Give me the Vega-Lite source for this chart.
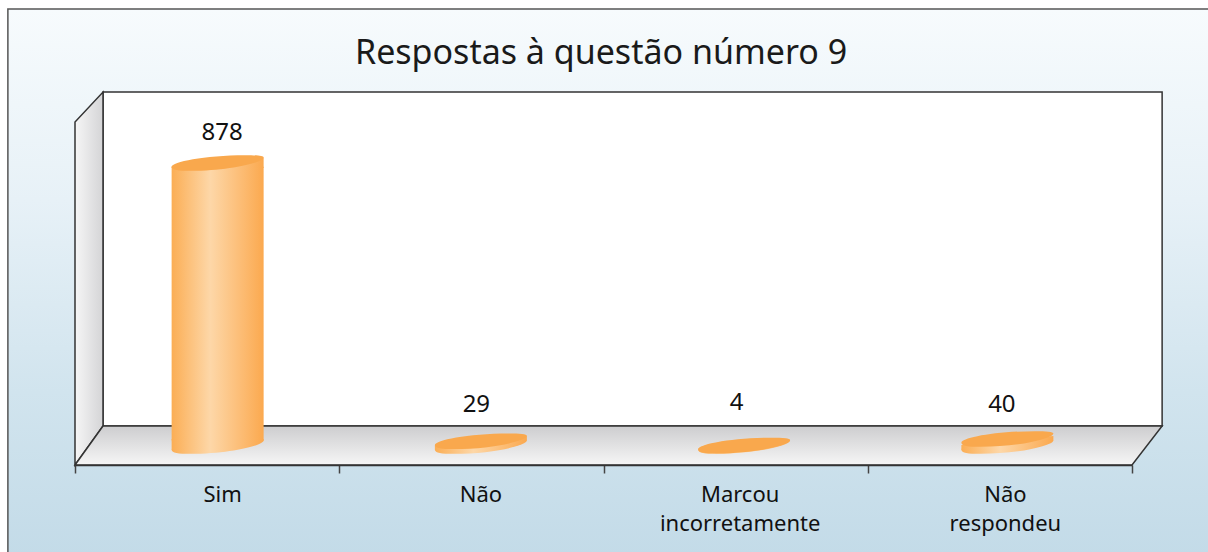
{"$schema":"https://vega.github.io/schema/vega-lite/v6.json","width":1208,"height":552,"autosize":{"type":"none"},"padding":0,"background":"white","config":{"view":{"stroke":null}},
"title":{"text":"Respostas à questão número 9","font":"Noto Sans","fontSize":34,"fontWeight":"normal","color":"#1a1a1a","anchor":"start","frame":"group","offset":0,"dx":355,"dy":98,"baseline":"alphabetic"},
"datasets":{"answers":[{"category":"Sim","value":878},{"category":"Não","value":29},{"category":"Marcou incorretamente","value":4},{"category":"Não respondeu","value":40}],
"panel":[{"x0":-0.254,"x1":4.6,"y0":-340,"y1":1356}],
"wall":[{"x0":0.106,"x1":4.114,"y0":62,"y1":1098}],
"side":[{"x":0,"lo":-59,"hi":1005},{"x":0.106,"lo":62,"hi":1098}],
"floor":[{"y":-59,"x0":0,"x1":4},{"y":62,"x0":0.106,"x1":4.114}]},
"resolve":{"scale":{"x":"independent","y":"independent"}},
"layer":[
{"data":{"name":"panel"},"mark":{"type":"rect","stroke":"#555555","strokeWidth":1.5,"color":{"gradient":"linear","x1":0,"y1":0,"x2":0,"y2":1,"stops":[{"offset":0,"color":"#F7FBFD"},{"offset":0.35,"color":"#E7F1F7"},{"offset":0.7,"color":"#D1E4EE"},{"offset":1,"color":"#C3DBE8"}]}},"encoding":{"x":{"field":"x0","type":"quantitative","axis":null,"scale":{"domain":[0,4],"range":[75,1132],"zero":false,"nice":false}},"x2":{"field":"x1"},"y":{"field":"y0","type":"quantitative","axis":null,"scale":{"domain":[0,878],"range":[446,163],"zero":false,"nice":false}},"y2":{"field":"y1"}}},
{"data":{"name":"wall"},"mark":{"type":"rect","color":"white","stroke":"#333333","strokeWidth":1.5},"encoding":{"x":{"field":"x0","type":"quantitative","axis":null,"scale":{"domain":[0,4],"range":[75,1132],"zero":false,"nice":false}},"x2":{"field":"x1"},"y":{"field":"y0","type":"quantitative","axis":null,"scale":{"domain":[0,878],"range":[446,163],"zero":false,"nice":false}},"y2":{"field":"y1"}}},
{"data":{"name":"side"},"mark":{"type":"area","stroke":"#333333","strokeWidth":1.5,"color":{"gradient":"linear","x1":0,"y1":0,"x2":1,"y2":0,"stops":[{"offset":0,"color":"#F6F6F6"},{"offset":1,"color":"#D4D4D6"}]}},"encoding":{"x":{"field":"x","type":"quantitative","axis":null,"scale":{"domain":[0,4],"range":[75,1132],"zero":false,"nice":false}},"y":{"field":"lo","type":"quantitative","axis":null,"scale":{"domain":[0,878],"range":[446,163],"zero":false,"nice":false}},"y2":{"field":"hi"}}},
{"data":{"name":"floor"},"mark":{"type":"area","orient":"horizontal","stroke":"#333333","strokeWidth":1.5,"color":{"gradient":"linear","x1":0,"y1":0,"x2":0,"y2":1,"stops":[{"offset":0,"color":"#CDCDCF"},{"offset":1,"color":"#F6F6F6"}]}},"encoding":{"y":{"field":"y","type":"quantitative","axis":null,"scale":{"domain":[0,878],"range":[446,163],"zero":false,"nice":false}},"x":{"field":"x0","type":"quantitative","axis":null,"scale":{"domain":[0,4],"range":[75,1132],"zero":false,"nice":false}},"x2":{"field":"x1"}}},
{"data":{"name":"answers"},"mark":{"type":"point","filled":true,"opacity":1,"size":8464,"shape":"M-1,.08 C-1,-.02 -.3,-.17 .6,-.17 C.85,-.17 1,-.16 1,-.12 C1,-.02 .3,.17 -.6,.17 C-.85,.17 -1,.15 -1,.08 Z","color":{"gradient":"linear","x1":0,"y1":0,"x2":1,"y2":0,"stops":[{"offset":0,"color":"#FBAE55"},{"offset":0.42,"color":"#FDD7A8"},{"offset":1,"color":"#FBA94F"}]}},"encoding":{"x":{"field":"category","type":"nominal","axis":null,"sort":null,"scale":{"type":"band","range":[86,1139]}},"y":{"datum":0,"type":"quantitative","axis":null,"scale":{"type":"pow","exponent":1.2,"domain":[0,878],"range":[446,163],"nice":false}}}},
{"data":{"name":"answers"},"transform":[{"filter":"datum.value>=100"}],"mark":{"type":"bar","size":92,"yOffset":3.7,"y2Offset":-5.5,"color":{"gradient":"linear","x1":0,"y1":0,"x2":1,"y2":0,"stops":[{"offset":0,"color":"#FBAE55"},{"offset":0.42,"color":"#FDD7A8"},{"offset":1,"color":"#FBA94F"}]}},"encoding":{"x":{"field":"category","type":"nominal","axis":null,"sort":null,"scale":{"type":"band","range":[86,1139],"domain":["Sim","Não","Marcou incorretamente","Não respondeu"]}},"y":{"field":"value","type":"quantitative","axis":null,"scale":{"type":"pow","exponent":1.2,"domain":[0,878],"range":[446,163],"nice":false}},"y2":{"datum":0}}},
{"data":{"name":"answers"},"transform":[{"filter":"datum.value>=100"}],"mark":{"type":"point","filled":true,"opacity":1,"size":8464,"shape":"M-1,.08 L1,-.12 L1,.11 L-1,.11 Z","color":{"gradient":"linear","x1":0,"y1":0,"x2":1,"y2":0,"stops":[{"offset":0,"color":"#FBAE55"},{"offset":0.42,"color":"#FDD7A8"},{"offset":1,"color":"#FBA94F"}]}},"encoding":{"x":{"field":"category","type":"nominal","axis":null,"sort":null,"scale":{"type":"band","range":[86,1139],"domain":["Sim","Não","Marcou incorretamente","Não respondeu"]}},"y":{"field":"value","type":"quantitative","axis":null,"scale":{"type":"pow","exponent":1.2,"domain":[0,878],"range":[446,163],"nice":false}}}},
{"data":{"name":"answers"},"transform":[{"filter":"datum.value>=100"}],"mark":{"type":"point","filled":true,"opacity":1,"size":8464,"shape":"M-1,.08 L1,-.12 L1,-.15 L-1,-.15 Z","color":{"gradient":"linear","x1":0,"y1":0,"x2":1,"y2":0,"stops":[{"offset":0,"color":"#FBAE55"},{"offset":0.42,"color":"#FDD7A8"},{"offset":1,"color":"#FBA94F"}]}},"encoding":{"x":{"field":"category","type":"nominal","axis":null,"sort":null,"scale":{"type":"band","range":[86,1139],"domain":["Sim","Não","Marcou incorretamente","Não respondeu"]}},"y":{"datum":0,"type":"quantitative","axis":null,"scale":{"type":"pow","exponent":1.2,"domain":[0,878],"range":[446,163],"nice":false}}}},
{"data":{"name":"answers"},"transform":[{"filter":"datum.value>=20 && datum.value<100"}],"mark":{"type":"point","filled":true,"opacity":1,"size":8464,"shape":"M-1,.08 L1,-.12 L1,-.22 L-1,-.02 Z","color":{"gradient":"linear","x1":0,"y1":0,"x2":1,"y2":0,"stops":[{"offset":0,"color":"#FBAE55"},{"offset":0.42,"color":"#FDD7A8"},{"offset":1,"color":"#FBA94F"}]}},"encoding":{"x":{"field":"category","type":"nominal","axis":null,"sort":null,"scale":{"type":"band","range":[86,1139],"domain":["Sim","Não","Marcou incorretamente","Não respondeu"]}},"y":{"datum":0,"type":"quantitative","axis":null,"scale":{"type":"pow","exponent":1.2,"domain":[0,878],"range":[446,163],"nice":false}}}},
{"data":{"name":"answers"},"mark":{"type":"point","filled":true,"opacity":1,"size":8464,"color":"#F9A84D","shape":"M-1,.08 C-1,-.02 -.3,-.17 .6,-.17 C.85,-.17 1,-.16 1,-.12 C1,-.02 .3,.17 -.6,.17 C-.85,.17 -1,.15 -1,.08 Z"},"encoding":{"x":{"field":"category","type":"nominal","axis":null,"sort":null,"scale":{"type":"band","range":[86,1139]}},"y":{"field":"value","type":"quantitative","axis":null,"scale":{"type":"pow","exponent":1.2,"domain":[0,878],"range":[446,163],"nice":false}}}},
{"data":{"name":"answers"},"mark":{"type":"text","font":"Noto Sans","fontSize":24,"color":"#111111","baseline":"middle","dx":{"expr":"datum.category==='Sim'?15:datum.category==='Não'?5:datum.category==='Não respondeu'?2:1"},"dy":{"expr":"datum.value===878?-30:datum.value===29?-36:datum.value===4?-43:-34"}},"encoding":{"text":{"field":"value","type":"quantitative"},"y":{"field":"value","type":"quantitative","axis":null,"scale":{"type":"pow","exponent":1.2,"domain":[0,878],"range":[446,163],"nice":false}},"x":{"field":"category","type":"nominal","sort":null,"scale":{"type":"band","range":[75,1132]},"title":null,"axis":{"orient":"bottom","offset":-87,"zindex":1,"labelAngle":0,"labelFont":"Noto Sans","labelFontSize":22,"labelColor":"#111111","labelLineHeight":29,"labelPadding":11,"labelLimit":400,"tickBand":"extent","tickSize":8,"tickWidth":1.5,"tickColor":"#444444","domainColor":"#333333","domainWidth":1.5,"labelOffset":{"expr":"datum.value==='Sim'?15:datum.value==='Não'?9:datum.value==='Marcou incorretamente'?4:5"},"labelExpr":"datum.value==='Marcou incorretamente'?['Marcou','incorretamente']:datum.value==='Não respondeu'?['Não','respondeu']:datum.value"}}}}
]}
